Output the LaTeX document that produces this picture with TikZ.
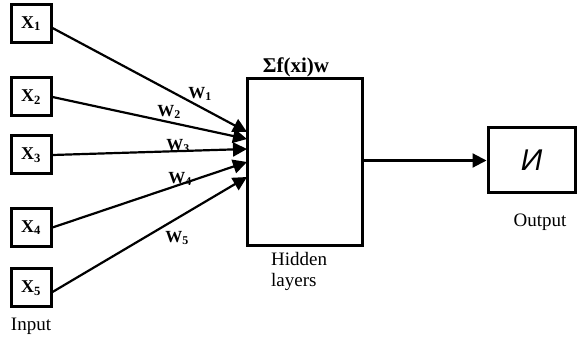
\documentclass[tikz,border=0pt]{standalone}
\usepackage{fontspec}
\setmainfont{Liberation Serif}
\newfontfamily\cyrsans{Liberation Sans}
\usetikzlibrary{arrows.meta}
\begin{document}
\begin{tikzpicture}[x=1pt,y=-1pt,
  inbox/.style={draw,line width=3pt,minimum width=40pt,minimum height=38pt,inner sep=0pt,font=\bfseries\fontsize{18}{18}\selectfont},
  bigbox/.style={draw,line width=3pt,inner sep=0pt},
  conn/.style={line width=2.2pt,-{Triangle[length=14pt,width=14pt]}},
  lbl/.style={font=\fontsize{19}{21}\selectfont,inner sep=0pt},
  wl/.style={font=\bfseries\fontsize{17}{17}\selectfont,inner sep=0pt}]
\useasboundingbox (0,0) rectangle (579,347);
\node[inbox] (x1) at (31,23.5) {X\textsubscript{1}};
\node[inbox] (x2) at (31,97) {X\textsubscript{2}};
\node[inbox] (x3) at (31,155) {X\textsubscript{3}};
\node[inbox] (x4) at (31,227.5) {X\textsubscript{4}};
\node[inbox] (x5) at (31,288) {X\textsubscript{5}};
\node[lbl] (inl) at (31,326) {Input};
\node[bigbox,minimum width=115pt,minimum height=167pt] (h) at (305,162) {};
\node[font=\bfseries\fontsize{21}{21}\selectfont,inner sep=0pt] (sig) at (296,67) {Σf(xi)w};
\node[lbl,align=left,anchor=north west] (hl) at (271,252) {Hidden\\layers};
\node[bigbox,minimum width=87pt,minimum height=65pt] (o) at (531.5,160.5) {\cyrsans\itshape\fontsize{30}{30}\selectfont И};
\node[lbl] (ol) at (540,222) {Output};
\coordinate (t1) at (247,132);
\coordinate (t2) at (247,139);
\coordinate (t3) at (247,149);
\coordinate (t4) at (247,162);
\coordinate (t5) at (247,177);
\draw[conn] (x1.east) ++(0,4.5) -- (t1);
\draw[conn] (x2.east) -- (t2);
\draw[conn] (x3.east) -- (t3);
\draw[conn] (x4.east) -- (t4);
\draw[conn] (x5.east) ++(0,4) -- (t5);
\draw[conn] (h.east |- o.west) -- (o.west);
\node[wl] (w1) at (200,94) {W\textsubscript{1}};
\node[wl] (w2) at (169,112) {W\textsubscript{2}};
\node[wl] (w3) at (178,146) {W\textsubscript{3}};
\node[wl] (w4) at (180,179) {W\textsubscript{4}};
\node[wl] (w5) at (177,238) {W\textsubscript{5}};
\end{tikzpicture}
\end{document}
